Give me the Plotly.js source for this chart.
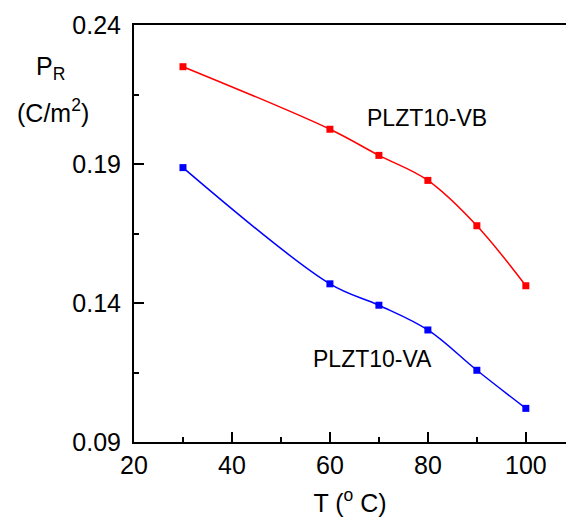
<!DOCTYPE html>
<html><head><meta charset="utf-8">
<script src="https://cdn.plot.ly/plotly-3.0.1.min.js"></script>
<style>html,body{margin:0;padding:0;background:#fff}#chart{width:566px;height:522px}</style>
</head><body><div id="chart"></div>
<script>
const temps = [30, 60, 70, 80, 90, 100];
const prVB = [0.2250, 0.2025, 0.1931, 0.1841, 0.1678, 0.1462];
const prVA = [0.1887, 0.1469, 0.1392, 0.1303, 0.1158, 0.1021];
const xTicks = [20, 40, 60, 80, 100];
const xMinor = [30, 50, 70, 90];
const yTicks = [0.09, 0.14, 0.19, 0.24];
const yTickText = ["0.09", "0.14", "0.19", "0.24"];
const yMinor = [0.115, 0.165, 0.215];
const F = 'Arial, "Liberation Sans", sans-serif';

const traces = [
  {x: temps, y: prVB, mode: 'lines+markers', name: 'PLZT10-VB',
   line: {color: '#ff0000', width: 1.5, shape: 'spline'},
   marker: {symbol: 'square', size: 7, color: '#ff0000'}},
  {x: temps, y: prVA, mode: 'lines+markers', name: 'PLZT10-VA',
   line: {color: '#0000ff', width: 1.5, shape: 'spline'},
   marker: {symbol: 'square', size: 7, color: '#0000ff'}}
];

const PL = 134, PT = 25, PW = 432, PH = 417;
function px(xp) { return (xp - PL) / PW; }
function py(yp) { return (PT + PH - yp) / PH; }

const layout = {
  width: 566, height: 522,
  margin: {l: PL, r: 0, t: PT, b: 80},
  paper_bgcolor: '#fff', plot_bgcolor: '#fff',
  showlegend: false,
  font: {family: F, color: '#000', size: 25},
  xaxis: {
    range: [20, 108.2], tickmode: 'array', tickvals: xTicks,
    ticks: 'inside', ticklen: 10, tickwidth: 2, tickcolor: '#000',
    showline: true, linewidth: 2, linecolor: '#000', mirror: true,
    showgrid: false, zeroline: false,
    tickfont: {size: 25, family: F},
    minor: {tickvals: xMinor, ticks: 'inside', ticklen: 5, tickwidth: 2, tickcolor: '#000', showgrid: false},
    title: {text: 'T (<sup>o</sup> C)', font: {size: 25, family: F}, standoff: 16}
  },
  yaxis: {
    range: [0.09, 0.24], tickmode: 'array', tickvals: yTicks, ticktext: yTickText,
    ticks: 'inside', ticklen: 10, tickwidth: 2, tickcolor: '#000',
    showline: true, linewidth: 2, linecolor: '#000', mirror: false,
    showgrid: false, zeroline: false,
    tickfont: {size: 25, family: F},
    ticklabelstandoff: 6,
    minor: {tickvals: yMinor, ticks: 'inside', ticklen: 5, tickwidth: 2, tickcolor: '#000', showgrid: false}
  },
  annotations: [
    {xref: 'paper', yref: 'paper', x: px(50), y: py(68), xanchor: 'center', yanchor: 'middle',
     text: 'P<sub>R</sub>', showarrow: false, font: {size: 25, family: F, color: '#000'}},
    {xref: 'paper', yref: 'paper', x: px(53), y: py(111), xanchor: 'center', yanchor: 'middle',
     text: '(C/m<sup>2</sup>)', showarrow: false, font: {size: 25, family: F, color: '#000'}},
    {xref: 'x', yref: 'y', x: 79.9, y: 0.2066, text: 'PLZT10-VB', showarrow: false,
     font: {size: 23, family: F, color: '#000'}, xanchor: 'center', yanchor: 'middle'},
    {xref: 'x', yref: 'y', x: 68.6, y: 0.1197, text: 'PLZT10-VA', showarrow: false,
     font: {size: 23, family: F, color: '#000'}, xanchor: 'center', yanchor: 'middle'}
  ]
};

Plotly.newPlot('chart', traces, layout, {displayModeBar: false, staticPlot: true});
</script>
</body></html>
